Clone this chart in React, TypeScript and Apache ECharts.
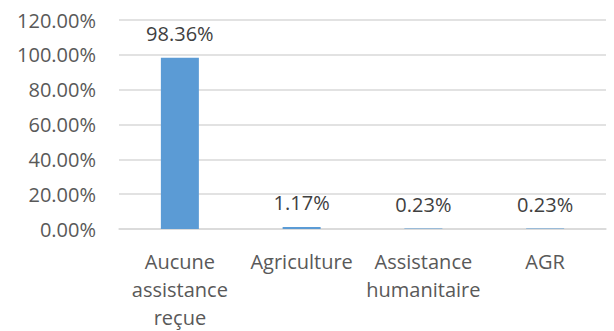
import React, { useEffect, useRef } from "react";
import * as echarts from "echarts";

const categories = ["Aucune\nassistance\nreçue", "Agriculture", "Assistance\nhumanitaire", "AGR"];
const values = [98.36, 1.17, 0.23, 0.23];
const yMax = 120;
const yInterval = 20;

export default function App() {
  const ref = useRef<HTMLDivElement>(null);
  useEffect(() => {
    if (!ref.current) return;
    const chart = echarts.init(ref.current, null, { renderer: "svg" });
    const font = "'Open Sans', sans-serif";
    chart.setOption({
      animation: false,
      grid: { left: 119, right: 8, top: 20, bottom: 101, containLabel: false },
      xAxis: {
        type: "category",
        data: categories,
        axisTick: { show: false },
        axisLine: { show: true, lineStyle: { color: "#d9d9d9", width: 1.5 } },
        axisLabel: {
          color: "#595959",
          fontFamily: font,
          fontSize: 20,
          lineHeight: 28,
          margin: 18,
          interval: 0,
        },
      },
      yAxis: {
        type: "value",
        min: 0,
        max: yMax,
        interval: yInterval,
        axisLine: { show: false },
        axisTick: { show: false },
        splitLine: { lineStyle: { color: "#d9d9d9", width: 1.5 } },
        axisLabel: {
          color: "#595959",
          fontFamily: font,
          fontSize: 20,
          margin: 23,
          formatter: (v: number) => v.toFixed(2) + "%",
        },
      },
      series: [
        {
          type: "bar",
          data: values,
          barWidth: 38,
          itemStyle: { color: "#5B9BD5" },
          label: {
            show: true,
            position: "top",
            distance: 14,
            color: "#404040",
            fontFamily: font,
            fontSize: 20,
            formatter: (p: any) => p.value.toFixed(2) + "%",
          },
        },
      ],
    });
    return () => chart.dispose();
  }, []);
  return <div ref={ref} style={{ width: 614, height: 331, position: "absolute", left: 0, top: 0 }} />;
}
